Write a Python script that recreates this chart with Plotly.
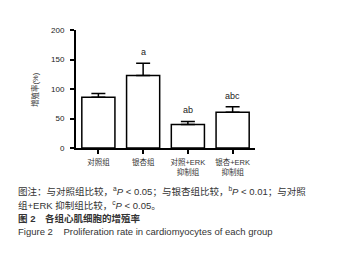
import plotly.graph_objects as go

categories = ["对照组", "银杏组", "对照+ERK<br>抑制组", "银杏+ERK<br>抑制组"]
values = [86, 123, 40, 60.5]
errors = [6.5, 20.5, 5, 9.5]
sig_labels = ["", "a", "ab", "abc"]
y_ticks = [0, 50, 100, 150, 200]

FONT = "Liberation Sans, Arial, Noto Sans CJK SC"

fig = go.Figure()
fig.add_trace(go.Bar(
    x=list(range(len(categories))), y=values, width=0.74,
    marker=dict(color="white", line=dict(color="black", width=1.5)),
    error_y=dict(type="data", array=errors, arrayminus=[0]*len(errors), symmetric=False,
                 color="black", thickness=1.5, width=7),
    showlegend=False,
))

for i, (v, e, s) in enumerate(zip(values, errors, sig_labels)):
    if s:
        fig.add_annotation(x=i, y=v + e, text=s, showarrow=False, yanchor="bottom",
                           yshift=4, font=dict(size=9, color="#222", family=FONT))

W, H = 351, 259
left, right = 68, 247
top, bottom = 22, 140

def py(pix):
    return (bottom - pix) / (bottom - top)

def px(pix):
    return (pix - left) / (right - left)

# y-axis title
fig.add_annotation(xref="paper", yref="paper", x=px(27), y=py(82), text="增殖率(%)",
                   textangle=-90, showarrow=False, xanchor="center", yanchor="middle",
                   font=dict(size=7.5, color="#333", family=FONT))

caption = [
    (183, "图注：与对照组比较，<sup>a</sup><i>P</i> < 0.05；与银杏组比较，<sup>b</sup><i>P</i> < 0.01；与对照"),
    (197, "组+ERK 抑制组比较，<sup>c</sup><i>P</i> < 0.05。"),
    (210, "<b>图 2</b>　<b>各组心肌细胞的增殖率</b>"),
    (223, "Figure 2    Proliferation rate in cardiomyocytes of each group"),
]
for ypix, txt in caption:
    fig.add_annotation(xref="paper", yref="paper", x=px(8), y=py(ypix), text=txt,
                       showarrow=False, xanchor="left", yanchor="middle",
                       font=dict(size=9.5, color="#333", family=FONT))

fig.update_layout(
    width=W, height=H,
    margin=dict(l=left, r=W - right, t=top, b=H - bottom, pad=0),
    paper_bgcolor="white", plot_bgcolor="white",
    font=dict(family=FONT, size=7, color="#222"),
    xaxis=dict(
        range=[-0.5, 3.5], tickmode="array", tickvals=list(range(len(categories))),
        ticktext=categories, showline=True, linecolor="black", linewidth=2,
        ticks="outside", ticklen=4, tickwidth=2, tickcolor="black",
        showgrid=False, zeroline=False, tickfont=dict(size=7.5, color="#333"),
        ticklabelstandoff=2,
    ),
    yaxis=dict(
        range=[0, 200], tickvals=y_ticks, showline=True, linecolor="black", linewidth=2,
        ticks="outside", ticklen=4, tickwidth=2, tickcolor="black",
        showgrid=False, zeroline=False, tickfont=dict(size=8, color="#222"),
        ticklabelstandoff=4,
    ),
)

fig.write_html("out.html")
